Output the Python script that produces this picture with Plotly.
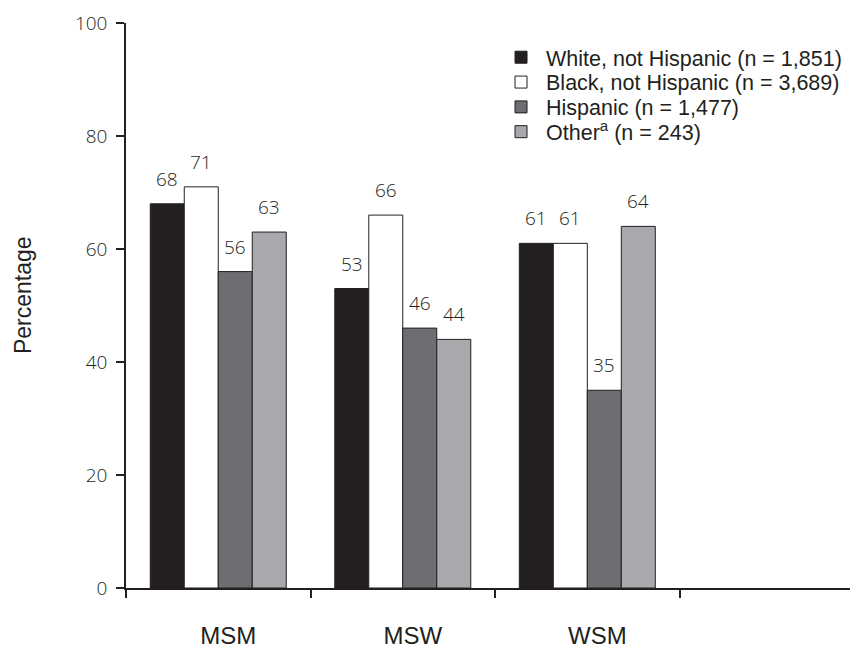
import plotly.graph_objects as go

categories = ["MSM", "MSW", "WSM", " "]
series_names = [
    "White, not Hispanic (n = 1,851)",
    "Black, not Hispanic (n = 3,689)",
    "Hispanic (n = 1,477)",
    "Other<sup>a</sup> (n = 243)",
]
white_vals = [68, 53, 61]
black_vals = [71, 66, 61]
hispanic_vals = [56, 46, 35]
other_vals = [63, 44, 64]
colors = ["#231f20", "#ffffff", "#6d6e71", "#a7a9ac"]
y_ticks = [0, 20, 40, 60, 80, 100]
y_title = "Percentage"

INK = "#231f20"
FONT = "Liberation Sans"
NUMFONT = "Open Sans"
BARGAP = 0.263
all_series = [white_vals, black_vals, hispanic_vals, other_vals]
n_series = len(all_series)
bar_w = (1 - BARGAP) / n_series

legend_names = ["legend", "legend2", "legend3", "legend4"]
legend_y = [0.9394, 0.8954, 0.8515, 0.8076]

fig = go.Figure()
for i, (name, vals, col) in enumerate(zip(series_names, all_series, colors)):
    fig.add_trace(go.Bar(
        name=name,
        x=categories[:3],
        y=vals,
        marker=dict(color=col, line=dict(color=INK, width=1)),
        hoverinfo="skip",
        legend=legend_names[i],
    ))
    for ci, v in enumerate(vals):
        fig.add_annotation(
            x=ci + (i - (n_series - 1) / 2) * bar_w, y=v,
            xref="x", yref="y",
            text=str(v), showarrow=False,
            xanchor="center", yanchor="bottom", yshift=10,
            font=dict(family=NUMFONT, size=19, color=INK, weight=300),
        )

# y-axis title as rotated text
fig.add_annotation(
    x=-0.1407, y=0.5185, xref="paper", yref="paper",
    text=y_title, showarrow=False, textangle=-90,
    xanchor="center", yanchor="middle",
    font=dict(family=FONT, size=23, color=INK),
)

legend_layout = {}
for ln, ly in zip(legend_names, legend_y):
    legend_layout[ln] = dict(
        x=0.5055, y=ly, xanchor="left", yanchor="middle",
        font=dict(family=FONT, size=21.5, color=INK),
        bgcolor="rgba(0,0,0,0)", itemwidth=40,
        itemclick=False, itemdoubleclick=False,
    )

fig.update_layout(
    width=850, height=641,
    margin=dict(l=118, r=0, t=15, b=57),
    paper_bgcolor="white", plot_bgcolor="white",
    barmode="group", bargap=BARGAP, bargroupgap=0,
    font=dict(family=FONT, size=16, color=INK),
    showlegend=True,
    **legend_layout,
)
fig.update_xaxes(
    type="category",
    categoryorder="array", categoryarray=categories,
    range=[-0.5, 3.467],
    showline=True, linecolor=INK, linewidth=1.5,
    ticks="outside", tickson="boundaries", ticklen=8, tickwidth=1.5, tickcolor=INK,
    ticklabelstandoff=25, ticklabelshift=10,
    tickfont=dict(family=FONT, size=24, color=INK),
    showgrid=False, zeroline=False, fixedrange=True,
)
fig.update_yaxes(
    range=[0, 100],
    tickvals=y_ticks,
    showline=True, linecolor=INK, linewidth=1.5,
    ticks="outside", ticklen=8, tickwidth=1.5, tickcolor=INK,
    ticklabelstandoff=5,
    tickfont=dict(family=NUMFONT, size=19, color=INK, weight=300),
    showgrid=False, zeroline=False,
)

fig.write_html("out.html")
